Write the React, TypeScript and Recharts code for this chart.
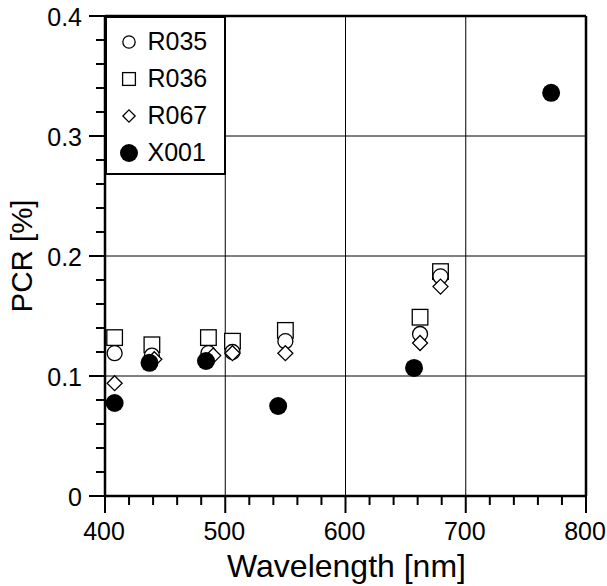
import {
  ScatterChart,
  Scatter,
  XAxis,
  YAxis,
  ReferenceLine,
  Legend,
} from "recharts";

// Wavelength [nm] / PCR [%] readings per sample
const R035_X = [408, 439, 486, 506, 550, 662, 679];
const R035_Y = [0.119, 0.117, 0.119, 0.12, 0.129, 0.135, 0.183];

const R036_X = [408, 439, 486, 506, 550, 662, 679];
const R036_Y = [0.132, 0.126, 0.132, 0.129, 0.138, 0.149, 0.187];

const R067_X = [408, 441, 490, 506, 550, 662, 679];
const R067_Y = [0.094, 0.114, 0.117, 0.119, 0.119, 0.1275, 0.1745];

const X001_X = [408, 437, 484, 544, 657, 771];
const X001_Y = [0.0775, 0.111, 0.1125, 0.075, 0.1067, 0.336];

const X_LABELS = [400, 500, 600, 700, 800];
const Y_LABELS = [0, 0.1, 0.2, 0.3, 0.4];
const X_MINOR = [420, 440, 460, 480, 520, 540, 560, 580, 620, 640, 660, 680, 720, 740, 760, 780];
const Y_MINOR = [0.02, 0.04, 0.06, 0.08, 0.12, 0.14, 0.16, 0.18, 0.22, 0.24, 0.26, 0.28, 0.32, 0.34, 0.36, 0.38];
const X_GRID = [500, 600, 700];
const Y_GRID = [0.1, 0.2, 0.3];

const FONT = '"Liberation Sans", Arial, Helvetica, sans-serif';

const toPoints = (xs: number[], ys: number[]) =>
  xs.map((x, i) => ({ x, y: ys[i] }));

type Kind = "circle" | "square" | "diamond" | "dot";

function Marker({ kind, cx, cy, s = 1 }: { kind: Kind; cx: number; cy: number; s?: number }) {
  const common = { fill: "#fff", stroke: "#000", strokeWidth: 1.3 };
  if (kind === "circle") return <circle cx={cx} cy={cy} r={7.5 * s} {...common} />;
  if (kind === "square")
    return <rect x={cx - 7.8 * s} y={cy - 7.8 * s} width={15.6 * s} height={15.6 * s} {...common} />;
  if (kind === "diamond") {
    const d = 7.5 * s;
    return (
      <polygon
        points={`${cx},${cy - d} ${cx + d},${cy} ${cx},${cy + d} ${cx - d},${cy}`}
        {...common}
      />
    );
  }
  return <circle cx={cx} cy={cy} r={9} fill="#000" />;
}

const SERIES: { name: string; kind: Kind; data: { x: number; y: number }[] }[] = [
  { name: "R035", kind: "circle", data: toPoints(R035_X, R035_Y) },
  { name: "R036", kind: "square", data: toPoints(R036_X, R036_Y) },
  { name: "R067", kind: "diamond", data: toPoints(R067_X, R067_Y) },
  { name: "X001", kind: "dot", data: toPoints(X001_X, X001_Y) },
];

// drawing order: squares under circles under diamonds under dots
const DRAW_ORDER = ["R036", "R035", "R067", "X001"];

// outward tick marks, drawn from the reference line's end points
const xTickShape = (len: number) => (p: any) => {
  const yb = Math.max(Number(p.y1), Number(p.y2));
  return <line x1={p.x1} y1={yb} x2={p.x1} y2={yb + len} stroke="#000" strokeWidth={2} />;
};
const yTickShape = (len: number) => (p: any) => {
  const xl = Math.min(Number(p.x1), Number(p.x2));
  return <line x1={xl} y1={p.y1} x2={xl - len} y2={p.y1} stroke="#000" strokeWidth={2} />;
};

const renderXLabel = (props: any) => {
  const x = Number(props.x);
  const y = Number(props.y);
  return (
    <text x={x - 1} y={y + 44} textAnchor="middle" fontSize={25} fontFamily={FONT} fill="#000" stroke="none">
      {props.payload.value}
    </text>
  );
};

const renderYLabel = (props: any) => {
  const x = Number(props.x);
  const y = Number(props.y);
  const v = props.payload.value;
  return (
    <text x={x - 23} y={y + 10} textAnchor="end" fontSize={25} fontFamily={FONT} fill="#000" stroke="none">
      {v === 0 ? "0" : v.toFixed(1)}
    </text>
  );
};

function LegendBox() {
  return (
    <div
      style={{
        width: 121,
        height: 159,
        boxSizing: "border-box",
        border: "2.5px solid #000",
        background: "#fff",
        paddingTop: 5,
        fontFamily: FONT,
        fontSize: 25,
      }}
    >
      {SERIES.map((s) => (
        <div key={s.name} style={{ display: "flex", alignItems: "center", height: 37 }}>
          <svg width={20} height={20} style={{ marginLeft: 11.5 }}>
            <Marker kind={s.kind} cx={10} cy={10} s={0.82} />
          </svg>
          <span style={{ marginLeft: 9, lineHeight: "25px" }}>{s.name}</span>
        </div>
      ))}
    </div>
  );
}

export default function App() {
  const ordered = DRAW_ORDER.map((n) => SERIES.find((s) => s.name === n)!);
  return (
    <div style={{ position: "absolute", left: 0, top: 0, background: "#fff" }}>
      <ScatterChart width={607} height={586} margin={{ top: 16, right: 21, left: 0, bottom: 0 }}>
        <XAxis
          type="number"
          dataKey="x"
          domain={[400, 800]}
          ticks={X_LABELS}
          interval={0}
          tickSize={0}
          tickMargin={0}
          tickLine={false}
          tick={renderXLabel}
          height={90}
          axisLine={{ stroke: "#000", strokeWidth: 2.5 }}
          label={({ viewBox }: any) => (
            <text
              x={viewBox.x + viewBox.width / 2 + 1}
              y={viewBox.y + 81}
              textAnchor="middle"
              fontSize={32}
              fontFamily={FONT}
              fill="#000"
            >
              Wavelength [nm]
            </text>
          )}
        />
        <YAxis
          type="number"
          dataKey="y"
          domain={[0, 0.4]}
          ticks={Y_LABELS}
          interval={0}
          tickSize={0}
          tickMargin={0}
          tickLine={false}
          tick={renderYLabel}
          width={105}
          axisLine={{ stroke: "#000", strokeWidth: 2.5 }}
          label={({ viewBox }: any) => {
            const cy = viewBox.y + viewBox.height / 2;
            return (
              <text
                x={32}
                y={cy}
                transform={`rotate(-90, 32, ${cy})`}
                textAnchor="middle"
                fontSize={29.5}
                fontFamily={FONT}
                fill="#000"
              >
                PCR [%]
              </text>
            );
          }}
        />
        {X_GRID.map((v) => (
          <ReferenceLine key={`gx${v}`} x={v} stroke="#000" strokeWidth={1} />
        ))}
        {Y_GRID.map((v) => (
          <ReferenceLine key={`gy${v}`} y={v} stroke="#000" strokeWidth={1} />
        ))}
        <ReferenceLine x={800} stroke="#000" strokeWidth={2.5} />
        <ReferenceLine y={0.4} stroke="#000" strokeWidth={2.5} />
        {X_LABELS.map((v) => (
          <ReferenceLine key={`xM${v}`} x={v} ifOverflow="visible" shape={xTickShape(17)} />
        ))}
        {X_MINOR.map((v) => (
          <ReferenceLine key={`xm${v}`} x={v} ifOverflow="visible" shape={xTickShape(9)} />
        ))}
        {Y_LABELS.map((v) => (
          <ReferenceLine key={`yM${v}`} y={v} ifOverflow="visible" shape={yTickShape(16)} />
        ))}
        {Y_MINOR.map((v) => (
          <ReferenceLine key={`ym${v}`} y={v} ifOverflow="visible" shape={yTickShape(9)} />
        ))}
        {ordered.map((s) => (
          <Scatter
            key={s.name}
            name={s.name}
            data={s.data}
            isAnimationActive={false}
            shape={(p: any) => <Marker kind={s.kind} cx={p.cx} cy={p.cy} />}
          />
        ))}
        <Legend
          layout="vertical"
          align="center"
          verticalAlign="middle"
          content={() => <LegendBox />}
          wrapperStyle={{ position: "absolute", left: 105, top: 16, width: 121, height: 159 }}
        />
      </ScatterChart>
    </div>
  );
}
